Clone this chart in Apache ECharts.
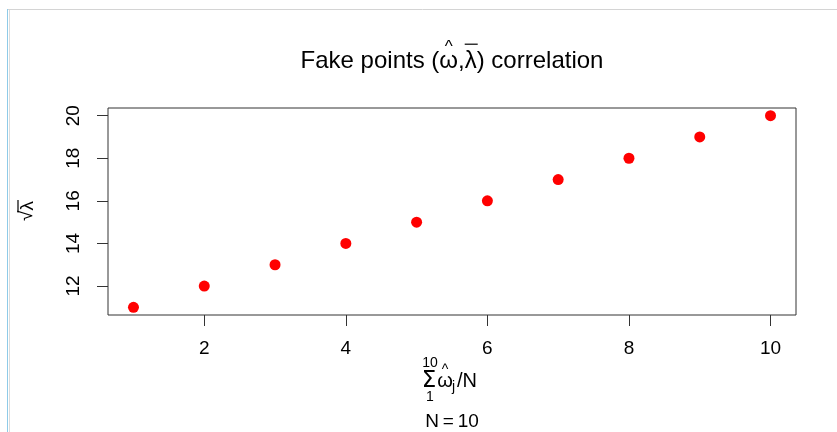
<!DOCTYPE html>
<html><head><meta charset="utf-8">
<script src="https://cdn.jsdelivr.net/npm/echarts@6/dist/echarts.min.js"></script>
<style>html,body{margin:0;padding:0;background:#fff}#c{width:837px;height:432px}</style>
</head><body><div id="c"></div>
<script>
var xValues = [1, 2, 3, 4, 5, 6, 7, 8, 9, 10];
var yValues = [11, 12, 13, 14, 15, 16, 17, 18, 19, 20];
var xTicks = [2, 4, 6, 8, 10];
var yTicks = [12, 14, 16, 18, 20];
// title pieces: text + accent ('hat' / 'bar' / none)
var titleParts = [['Fake points (', ''], ['\u03c9', 'hat'], [',', ''], ['\u03bb', 'bar'], [') correlation', '']];

var FONT = 'Liberation Sans';
var chart = echarts.init(document.getElementById('c'));
var pts = xValues.map(function (x, i) { return [x, yValues[i]]; });

var ctx = document.createElement('canvas').getContext('2d');
function tw(t, size) { ctx.font = size + 'px "' + FONT + '"'; return ctx.measureText(t).width; }
function txt(t, x, y, size, align, fam) {
  return { type: 'text', style: { text: t, x: x, y: y, textAlign: align || 'center', textVerticalAlign: 'middle', font: size + 'px "' + (fam || FONT) + '"', fill: '#000' } };
}

function rowElements(parts, size, cx, cy) {
  var total = 0;
  parts.forEach(function (p) { total += tw(p[0], size); });
  var x = cx - total / 2;
  var els = [];
  parts.forEach(function (p) {
    var w = tw(p[0], size);
    els.push(txt(p[0], x, cy, size, 'left'));
    if (p[1] === 'hat') {
      els.push(txt('^', x + w / 2, cy - size * 0.55, Math.round(size * 0.7)));
    } else if (p[1] === 'bar') {
      els.push({ type: 'line', shape: { x1: x, y1: cy - size * 0.7, x2: x + w + 1, y2: cy - size * 0.7 }, style: { stroke: '#000', lineWidth: 1.2 } });
    }
    x += w;
  });
  return els;
}

var graphics = [
  { type: 'line', shape: { x1: 8, y1: 9.5, x2: 837, y2: 9.5 }, style: { stroke: '#d4d4d4', lineWidth: 1 } },
  { type: 'line', shape: { x1: 7.5, y1: 9, x2: 7.5, y2: 432 }, style: { stroke: '#8fcbe8', lineWidth: 1 } },
  { type: 'line', shape: { x1: 9.5, y1: 10, x2: 9.5, y2: 432 }, style: { stroke: '#dcdcdc', lineWidth: 1 } }
].concat(rowElements(titleParts, 24, 452, 61));

// y axis title: sqrt(lambda-bar), rotated
var yTitle = { type: 'group', x: 27, y: 211, rotation: Math.PI / 2, children: [] };
(function () {
  var s = 19, wr = tw('\u221a', s), wl = tw('\u03bb', s), tot = wr + wl, x0 = -tot / 2;
  yTitle.children.push(txt('\u221a', x0, 0, s, 'left'));
  yTitle.children.push(txt('\u03bb', x0 + wr, 1, s, 'left'));
  yTitle.children.push({ type: 'line', shape: { x1: x0 + wr - 2, y1: -9, x2: x0 + tot + 1, y2: -9 }, style: { stroke: '#000', lineWidth: 1.2 } });
})();
graphics.push(yTitle);

// x axis title: sum_1^10 omega-hat_j / N
graphics.push(
  txt('\u03a3', 429, 381, 23, 'center', 'DejaVu Sans'),
  txt('10', 430, 363, 14),
  txt('1', 430, 397, 14),
  txt('\u03c9', 445, 381, 20),
  txt('^', 445, 370, 14),
  txt('j', 452, 387, 14, 'left'),
  txt('/N', 457, 381, 20, 'left'),
  txt('N\u2009=\u200910', 452, 422, 19)
);

chart.setOption({
  animation: false,
  backgroundColor: '#fff',
  grid: { left: 108, top: 108, right: 41, bottom: 117, show: true, borderColor: '#333', borderWidth: 1, backgroundColor: 'transparent' },
  xAxis: {
    type: 'value', min: 0.64, max: 10.36,
    splitLine: { show: false },
    axisLine: { show: false },
    axisTick: { show: true, customValues: xTicks, length: 11, lineStyle: { color: '#333' } },
    axisLabel: { customValues: xTicks, margin: 24, fontSize: 19, color: '#000', fontFamily: FONT }
  },
  yAxis: {
    type: 'value', min: 10.64, max: 20.36,
    splitLine: { show: false },
    axisLine: { show: false },
    axisTick: { show: true, customValues: yTicks, length: 11, lineStyle: { color: '#333' } },
    axisLabel: { customValues: yTicks, rotate: 90, margin: 25, fontSize: 19, color: '#000', fontFamily: FONT }
  },
  series: [{
    type: 'scatter', data: pts, symbol: 'circle', symbolSize: 11,
    itemStyle: { color: '#ff0000', opacity: 1 }
  }],
  graphic: graphics
});
</script></body></html>
